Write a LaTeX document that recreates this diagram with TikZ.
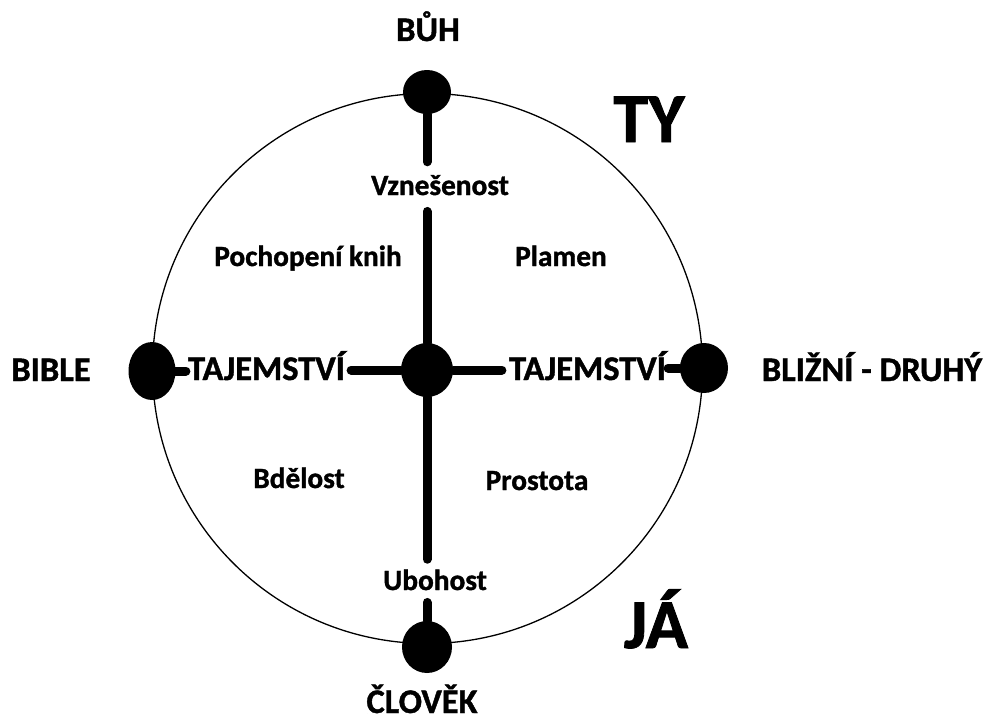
\documentclass[tikz,border=0pt]{standalone}
\usepackage{fontspec}
\setmainfont{Carlito}[BoldFeatures={FakeBold=1.2}]
\usetikzlibrary{shapes.geometric,calc}
\tikzset{
  dotnode/.style={ellipse, fill=black, inner sep=0pt},
  bar/.style={line width=9pt, line cap=round, black},
  biglab/.style={font=\fontsize{34.5}{37}\selectfont\bfseries, inner sep=0pt, anchor=base},
  smalllab/.style={font=\fontsize{29.3}{31}\selectfont\bfseries, inner sep=0pt, anchor=base},
  hugelab/.style={font=\fontsize{70}{72}\selectfont\bfseries, inner sep=0pt, anchor=base},
}
\begin{document}
\begin{tikzpicture}[x=1pt,y=-1pt]
\useasboundingbox[fill=white] (0,0) rectangle (989,720);
% ring
\node[draw, circle, line width=1.3pt, minimum size=550pt, inner sep=0pt] (ring) at (427.5,368.5) {};
% dots
\node[dotnode, minimum width=48pt, minimum height=44pt] (top) at (427,92) {};
\node[dotnode, minimum width=50pt, minimum height=52pt] (bot) at (427,647) {};
\node[dotnode, minimum width=47pt, minimum height=58pt] (lft) at (152,371) {};
\node[dotnode, minimum width=48pt, minimum height=50pt] (rgt) at (704,368) {};
\node[dotnode, minimum width=52pt, minimum height=54pt] (ctr) at (427,370) {};
% labels
\node[biglab] (buh) at (428,41) {BŮH};
\node[biglab] (clovek) at (422,713) {ČLOVĚK};
\node[biglab] (bible) at (51,381) {BIBLE};
\node[biglab] (blizni) at (872,381) {BLIŽNÍ - DRUHÝ};
\node[biglab] (tajL) at (266.5,380) {TAJEMSTVÍ};
\node[biglab] (tajR) at (587.5,380) {TAJEMSTVÍ};
\node[smalllab] (vz) at (440,195) {Vznešenost};
\node[smalllab] (ub) at (435,590) {Ubohost};
\node[smalllab] (poch) at (308,266) {Pochopení knih};
\node[smalllab] (plamen) at (561,266) {Plamen};
\node[smalllab] (bdel) at (299,488) {Bdělost};
\node[smalllab] (prost) at (537,490) {Prostota};
\node[hugelab] (ty) at (649,142) {TY};
\node[hugelab] (ja) at (656,648) {JÁ};
% bars
\draw[bar, shorten >=13pt] (top) -- (top |- vz.north);
\draw[bar, shorten <=16pt] (ctr |- vz.south) -- (ctr);
\draw[bar, shorten >=10pt] (ctr) -- (ctr |- ub.north);
\draw[bar, shorten <=12pt] (bot |- ub.south) -- (bot);
\draw[bar, shorten >=2pt] (lft) -- (tajL.west |- lft);
\draw[bar, shorten <=6pt] (tajL.east |- ctr) -- (ctr);
\draw[bar, shorten >=7pt] (ctr) -- (tajR.west |- ctr);
\draw[bar, shorten <=2pt] (tajR.east |- rgt) -- (rgt);
\end{tikzpicture}
\end{document}
